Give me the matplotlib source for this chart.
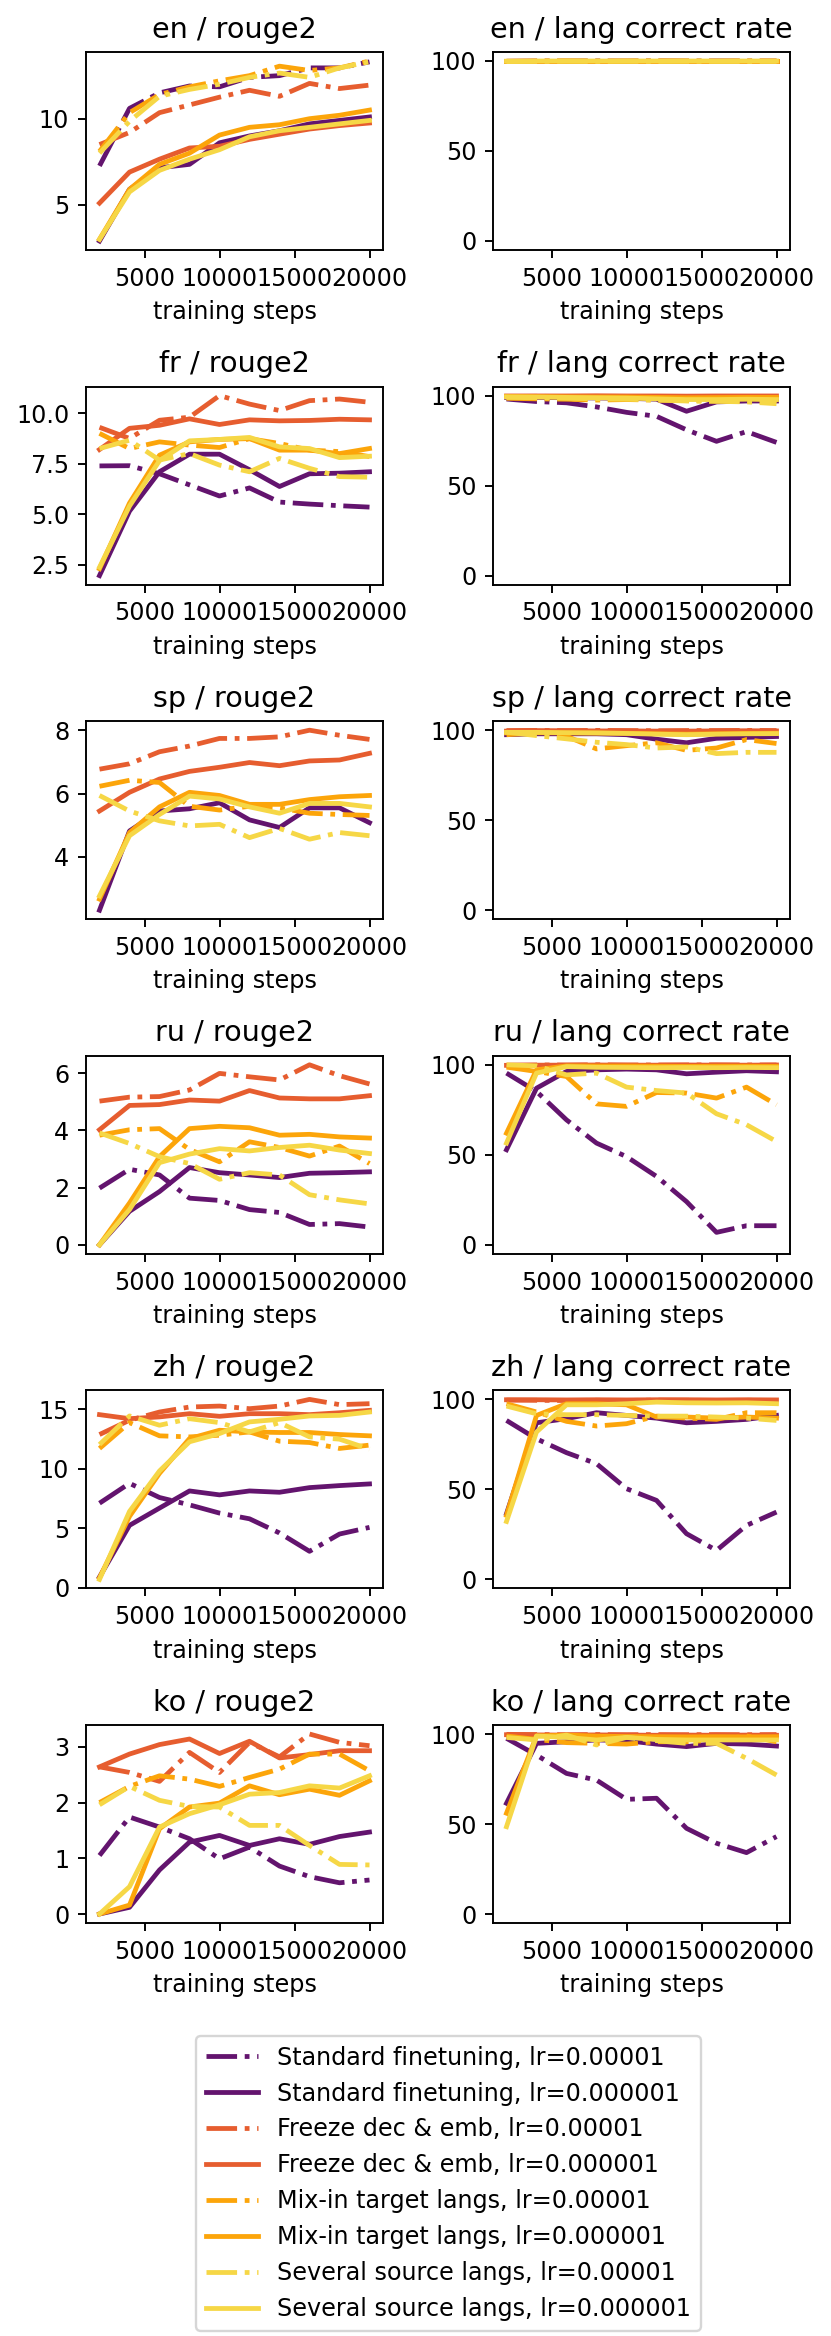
import numpy as np
import matplotlib.pyplot as plt

steps = [2000, 4000, 6000, 8000, 10000, 12000, 14000, 16000, 18000, 20000]
langs = ['en', 'fr', 'sp', 'ru', 'zh', 'ko']

labels = ['Standard finetuning, lr=0.00001', 'Standard finetuning, lr=0.000001',
          'Freeze dec & emb, lr=0.00001', 'Freeze dec & emb, lr=0.000001',
          'Mix-in target langs, lr=0.00001', 'Mix-in target langs, lr=0.000001',
          'Several source langs, lr=0.00001', 'Several source langs, lr=0.000001']
colors = ['#63146e', '#63146e', '#e65d2f', '#e65d2f',
          '#fca50a', '#fca50a', '#f6d746', '#f6d746']
styles = ['-.', '-', '-.', '-', '-.', '-', '-.', '-']

nan = np.nan

# rows follow the order of labels
en_rouge2 = [
    [7.26, 10.6, 11.5, 11.9, 11.85, 12.4, 12.5, 12.95, 12.95, 13.3],
    [2.9, 5.9, 7.15, 7.35, 8.6, 9.0, 9.3, 9.7, 9.9, 10.1],
    [8.5, 9.2, 10.35, 10.8, 11.25, 11.65, 11.3, 12.05, 11.75, 11.95],
    [5.1, 6.9, 7.65, 8.3, 8.4, 8.8, 9.1, 9.4, 9.6, 9.75],
    [8.1, 10.35, 11.4, 11.85, 12.2, 12.5, 13.05, 12.8, 12.95, 13.35],
    [3.0, 5.9, 7.35, 8.0, 9.05, 9.5, 9.65, 10.0, 10.2, 10.5],
    [8.0, 9.85, 11.3, 11.7, 12.0, 12.4, 12.65, 12.4, 12.95, 13.3],
    [3.0, 5.75, 7.0, 7.65, 8.2, 8.95, 9.3, 9.5, 9.7, 9.9],
]
en_lang = [
    [99.8, 99.9, 99.9, 100, 99.9, 100, 99.9, 100, 99.9, 99.9],
    [100, 100, 100, 100, 100, 100, 100, 100, 100, 100],
    [99.9, 100, 100, 99.9, 100, 100, 100, 99.9, 100, 100],
    [100, 100, 100, 100, 100, 100, 100, 100, 100, 100],
    [99.8, 99.9, 100, 99.9, 99.9, 100, 99.9, 99.9, 100, 99.9],
    [100, 100, 100, 100, 100, 100, 100, 100, 100, 100],
    [99.7, 99.8, 99.9, 99.8, 99.9, 99.8, 99.9, 99.8, 99.8, 99.8],
    [99.9, 100, 100, 100, 100, 100, 100, 100, 100, 100],
]

fr_rouge2 = [
    [7.39, 7.4, 7.0, 6.45, 5.9, 6.3, 5.6, 5.5, 5.42, 5.35],
    [1.96, 5.15, 7.1, 7.97, 7.97, 7.2, 6.37, 7.0, 7.03, 7.1],
    [9.3, 8.75, 9.65, 9.8, 10.87, 10.45, 10.13, 10.62, 10.7, 10.54],
    [8.2, 9.25, 9.4, 9.72, 9.44, 9.67, 9.62, 9.64, 9.7, 9.67],
    [9.0, 8.25, 8.58, 8.42, 8.3, 8.74, 8.5, 8.17, 8.1, 7.85],
    [2.3, 5.55, 7.92, 8.58, 8.7, 8.74, 8.17, 8.17, 8.0, 8.25],
    [8.25, 8.66, 7.68, 8.0, 7.43, 7.1, 7.76, 7.27, 6.86, 6.83],
    [2.37, 5.4, 7.65, 8.63, 8.7, 8.8, 8.33, 8.25, 7.8, 7.87],
]
fr_lang = [
    [98.1, 96.7, 96.0, 93.7, 90.7, 88.5, 81.0, 74.6, 80.0, 74.0],
    [99.0, 99.0, 98.8, 98.7, 98.5, 98.0, 91.3, 96.5, 97.0, 97.0],
    [99.5, 99.6, 99.5, 99.4, 99.5, 99.3, 99.0, 99.4, 99.5, 99.4],
    [99.8, 99.8, 99.8, 99.9, 99.8, 99.8, 99.7, 99.8, 99.8, 99.8],
    [98.5, 98.2, 98.0, 97.5, 97.8, 97.5, 97.2, 97.0, 96.8, 97.2],
    [99.5, 99.4, 99.3, 99.2, 99.2, 99.0, 98.8, 98.9, 99.0, 99.0],
    [99.0, 98.8, 98.5, 98.2, 98.0, 97.5, 97.0, 96.8, 96.5, 95.5],
    [99.3, 99.2, 99.0, 98.8, 98.6, 98.2, 97.8, 97.8, 98.0, 97.8],
]

sp_rouge2 = [
    [nan] * 10,
    [2.32, 4.82, 5.45, 5.52, 5.71, 5.17, 4.93, 5.55, 5.55, 5.08],
    [6.77, 6.94, 7.32, 7.5, 7.74, 7.74, 7.79, 8.0, 7.84, 7.71],
    [5.45, 6.04, 6.46, 6.7, 6.83, 6.98, 6.88, 7.03, 7.06, 7.27],
    [6.23, 6.42, 6.35, 5.6, 5.48, 5.6, 5.55, 5.38, 5.34, 5.31],
    [2.67, 4.77, 5.58, 6.04, 5.94, 5.66, 5.66, 5.81, 5.9, 5.94],
    [5.94, 5.45, 5.14, 4.98, 5.03, 4.61, 4.9, 4.56, 4.77, 4.67],
    [2.77, 4.67, 5.34, 5.92, 5.83, 5.58, 5.38, 5.69, 5.69, 5.58],
]
sp_lang = [
    [nan] * 10,
    [97.5, 98.0, 98.0, 98.0, 97.5, 95.0, 93.0, 95.5, 96.0, 96.5],
    [99.8, 99.9, 99.8, 99.9, 99.8, 99.7, 99.8, 99.8, 99.9, 99.8],
    [99.5, 99.8, 99.7, 99.6, 99.6, 99.5, 99.5, 99.6, 99.7, 99.6],
    [97.5, 98.5, 96.7, 89.6, 91.4, 93.0, 88.8, 90.1, 94.8, 92.6],
    [98.5, 98.6, 98.5, 98.4, 98.3, 98.0, 97.8, 98.0, 98.2, 98.3],
    [98.9, 97.0, 95.2, 93.3, 92.0, 90.1, 90.7, 87.0, 87.7, 87.7],
    [98.8, 98.8, 98.6, 98.5, 98.2, 97.8, 97.5, 97.8, 98.0, 98.1],
]

ru_rouge2 = [
    [1.98, 2.64, 2.44, 1.63, 1.55, 1.23, 1.13, 0.71, 0.74, 0.62],
    [0.0, 1.17, 1.86, 2.7, 2.52, 2.44, 2.35, 2.5, 2.52, 2.55],
    [5.02, 5.16, 5.18, 5.41, 5.99, 5.87, 5.76, 6.29, 5.91, 5.62],
    [4.02, 4.87, 4.9, 5.06, 5.02, 5.39, 5.13, 5.1, 5.1, 5.21],
    [3.83, 4.02, 4.06, 3.33, 2.9, 3.6, 3.4, 3.1, 3.45, 2.84],
    [0.0, 1.46, 3.08, 4.06, 4.14, 4.09, 3.83, 3.86, 3.77, 3.73],
    [3.91, 3.54, 3.08, 2.84, 2.29, 2.52, 2.44, 1.75, 1.57, 1.43],
    [0.0, 1.23, 2.87, 3.17, 3.36, 3.28, 3.4, 3.48, 3.31, 3.19],
]
ru_lang = [
    [95.4, 85.2, 69.4, 56.5, 49.0, 38.0, 24.0, 6.9, 10.6, 10.6],
    [52.8, 87.0, 96.3, 97.2, 97.6, 97.2, 95.0, 95.9, 96.7, 96.1],
    [99.8, 99.9, 99.9, 100, 99.9, 99.9, 99.9, 100, 99.9, 99.9],
    [99.7, 99.8, 99.8, 99.9, 99.8, 99.8, 99.9, 99.8, 99.8, 99.9],
    [98.7, 96.3, 93.5, 78.3, 76.9, 84.6, 84.3, 81.5, 87.6, 77.8],
    [62.0, 97.2, 99.4, 99.3, 99.3, 99.2, 99.1, 99.2, 99.2, 99.1],
    [100, 99.4, 94.4, 95.4, 87.6, 85.7, 84.3, 72.8, 66.7, 57.4],
    [56.5, 95.4, 99.0, 98.6, 98.5, 98.4, 98.5, 98.4, 98.5, 98.4],
]

zh_rouge2 = [
    [7.1, 8.77, 7.58, 6.96, 6.27, 5.79, 4.6, 3.06, 4.51, 5.07],
    [0.9, 5.24, 6.69, 8.13, 7.8, 8.13, 8.02, 8.41, 8.58, 8.72],
    [12.87, 14.07, 14.76, 15.18, 15.26, 15.04, 15.26, 15.82, 15.38, 15.46],
    [14.54, 14.2, 14.35, 14.62, 14.4, 14.62, 14.62, 14.54, 14.7, 14.9],
    [11.7, 13.87, 12.76, 12.67, 12.81, 13.09, 12.31, 12.2, 11.7, 11.98],
    [0.84, 5.99, 9.61, 12.53, 13.23, 13.09, 13.04, 13.04, 12.87, 12.76],
    [12.03, 14.43, 13.65, 14.2, 13.87, 13.09, 13.87, 12.67, 12.48, 11.64],
    [0.7, 6.41, 9.81, 12.26, 12.95, 13.93, 14.15, 14.43, 14.48, 14.76],
]
zh_lang = [
    [88.3, 78.1, 70.4, 64.3, 50.4, 43.9, 25.4, 16.1, 30.0, 37.4],
    [36.5, 87.0, 89.3, 92.6, 91.1, 89.6, 87.0, 87.8, 88.9, 91.1],
    [99.6, 99.5, 99.4, 99.5, 99.4, 99.6, 99.5, 99.4, 99.5, 99.4],
    [99.8, 99.8, 99.7, 99.8, 99.7, 99.8, 99.8, 99.7, 99.8, 99.7],
    [97.6, 93.0, 87.8, 85.2, 86.5, 90.7, 89.6, 88.9, 92.6, 92.6],
    [35.6, 91.1, 97.6, 97.6, 97.0, 90.2, 90.2, 89.6, 90.2, 89.6],
    [96.3, 92.0, 91.5, 91.5, 91.1, 90.7, 90.7, 90.2, 89.6, 88.3],
    [32.2, 81.9, 97.0, 97.0, 97.6, 98.5, 98.1, 98.0, 98.1, 97.6],
]

ko_rouge2 = [
    [1.05, 1.74, 1.56, 1.35, 0.99, 1.2, 0.86, 0.67, 0.56, 0.61],
    [0.0, 0.12, 0.79, 1.29, 1.41, 1.23, 1.35, 1.25, 1.39, 1.47],
    [2.64, 2.54, 2.38, 2.9, 2.54, 3.08, 2.82, 3.23, 3.08, 3.02],
    [2.64, 2.87, 3.04, 3.14, 2.88, 3.1, 2.8, 2.86, 2.93, 2.93],
    [2.0, 2.29, 2.48, 2.42, 2.29, 2.45, 2.6, 2.87, 2.87, 2.57],
    [0.0, 0.16, 1.53, 1.92, 1.99, 2.3, 2.14, 2.24, 2.13, 2.39],
    [1.96, 2.29, 2.04, 1.93, 1.92, 1.59, 1.59, 1.23, 0.89, 0.88],
    [0.0, 0.49, 1.56, 1.8, 1.96, 2.15, 2.18, 2.3, 2.26, 2.48],
]
ko_lang = [
    [97.6, 88.3, 78.1, 74.4, 63.7, 64.3, 47.6, 39.3, 34.1, 43.0],
    [61.5, 94.8, 95.7, 96.7, 96.3, 94.4, 93.0, 94.8, 94.4, 93.3],
    [99.8, 99.7, 99.6, 99.7, 99.6, 99.7, 99.6, 99.7, 99.6, 99.7],
    [99.6, 99.5, 99.4, 99.5, 99.4, 99.3, 99.4, 99.3, 99.4, 99.3],
    [98.9, 97.0, 95.2, 94.8, 94.4, 95.7, 95.7, 96.7, 98.9, 95.7],
    [56.0, 98.9, 99.4, 98.8, 98.6, 98.5, 98.4, 98.5, 98.4, 98.5],
    [98.1, 96.7, 99.4, 93.9, 98.1, 96.3, 94.8, 94.8, 86.5, 77.2],
    [48.5, 98.9, 98.1, 96.7, 98.1, 97.0, 96.7, 96.7, 96.7, 96.7],
]

rouge2 = {'en': en_rouge2, 'fr': fr_rouge2, 'sp': sp_rouge2,
          'ru': ru_rouge2, 'zh': zh_rouge2, 'ko': ko_rouge2}
lang_rate = {'en': en_lang, 'fr': fr_lang, 'sp': sp_lang,
             'ru': ru_lang, 'zh': zh_lang, 'ko': ko_lang}

W, H = 831, 2336
DPI = 172
fig = plt.figure(figsize=(W / DPI, H / DPI), dpi=DPI)

col_left = [86, 493]
ax_w, ax_h = 297, 198
handles = None

for i, lang in enumerate(langs):
    top = 52 + i * 334.6
    for j, (metric, table) in enumerate([('rouge2', rouge2), ('lang correct rate', lang_rate)]):
        ax = fig.add_axes([col_left[j] / W, 1 - (top + ax_h) / H, ax_w / W, ax_h / H])
        lines = []
        for k, ys in enumerate(table[lang]):
            ln, = ax.plot(steps, ys, linestyle=styles[k], color=colors[k], lw=2)
            lines.append(ln)
        if handles is None:
            handles = lines
        ax.set_title(lang + ' / ' + metric)
        ax.set_xlabel('training steps')
        ax.set_xticks([5000, 10000, 15000, 20000])
        if j == 1:
            ax.set_ylim(-5, 105)

fig.legend(handles, labels, loc='upper left', bbox_to_anchor=(196 / W, 1 - 2036 / H),
           borderaxespad=0, handlelength=2.2)

fig.savefig('out.png', dpi=DPI)
